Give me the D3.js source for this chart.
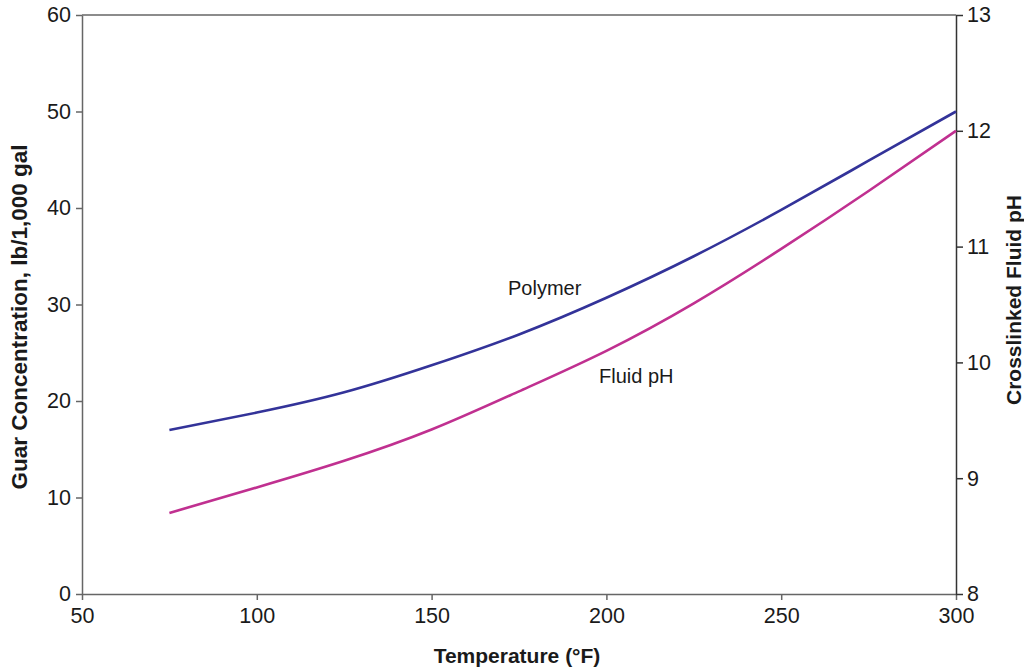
<!DOCTYPE html>
<html><head><meta charset="utf-8">
<script src="https://cdn.jsdelivr.net/npm/d3@7"></script>
<style>body{margin:0;background:#fff}svg{display:block}text{font-family:"Liberation Sans",Arial,sans-serif;fill:#1a1a1a}</style>
</head><body>
<svg id="c" width="1024" height="672"></svg>
<script>
const temps = [75, 100, 125, 150, 175, 200, 225, 250, 275, 300];
const polymer = [17.0, 18.8, 20.9, 23.7, 26.9, 30.7, 35.0, 39.8, 44.9, 50.0];
const fluidPH = [8.70, 8.92, 9.15, 9.42, 9.75, 10.10, 10.51, 10.98, 11.48, 12.0];
const xTicks = [50, 100, 150, 200, 250, 300];
const yLeftTicks = [0, 10, 20, 30, 40, 50, 60];
const yRightTicks = [8, 9, 10, 11, 12, 13];

const svg = d3.select("#c");
const L = 82, R = 956, T = 15, B = 594;
const x = d3.scaleLinear().domain([50, 300]).range([L, R]);
const yL = d3.scaleLinear().domain([0, 60]).range([B, T]);
const yR = d3.scaleLinear().domain([8, 13]).range([B, T]);

svg.append("line").attr("x1", L).attr("x2", R).attr("y1", T).attr("y2", T).attr("stroke", "#666").attr("stroke-width", 1.5);

const fs = "21.5px";
const gx = svg.append("g").attr("transform", `translate(0,${B})`)
  .call(d3.axisBottom(x).tickValues(xTicks).tickFormat(d3.format("d")).tickSize(6).tickPadding(8).tickSizeOuter(0));
const gl = svg.append("g").attr("transform", `translate(${L},0)`)
  .call(d3.axisLeft(yL).tickValues(yLeftTicks).tickFormat(d3.format("d")).tickSize(6).tickPadding(5).tickSizeOuter(0));
const gr = svg.append("g").attr("transform", `translate(${R},0)`)
  .call(d3.axisRight(yR).tickValues(yRightTicks).tickFormat(d3.format("d")).tickSize(7).tickPadding(4).tickSizeOuter(0));
[gx, gl].forEach(g => {
  g.selectAll("path,line").attr("stroke", "#666").attr("stroke-width", 1.5);
});
gr.selectAll("path,line").attr("stroke", "#333").attr("stroke-width", 1.5);
[gx, gl, gr].forEach(g => g.selectAll("text").style("font-size", fs).style("font-family", "Liberation Sans, Arial, sans-serif").attr("fill", "#1a1a1a"));

const lineL = d3.line().x((d, i) => x(temps[i])).y(d => yL(d)).curve(d3.curveNatural);
const lineR = d3.line().x((d, i) => x(temps[i])).y(d => yR(d)).curve(d3.curveNatural);
svg.append("path").attr("d", lineL(polymer)).attr("fill", "none").attr("stroke", "#333399").attr("stroke-width", 2.6);
svg.append("path").attr("d", lineR(fluidPH)).attr("fill", "none").attr("stroke", "#C03090").attr("stroke-width", 2.6);

svg.append("text").attr("x", 508).attr("y", 295).style("font-size", "20px").text("Polymer");
svg.append("text").attr("x", 599).attr("y", 383).style("font-size", "20px").text("Fluid pH");

svg.append("text").attr("x", 517).attr("y", 663).attr("text-anchor", "middle")
  .style("font-size", "21px").style("font-weight", "bold").text("Temperature (°F)");
svg.append("text").attr("transform", "translate(27,317) rotate(-90)").attr("text-anchor", "middle")
  .style("font-size", "22.5px").style("font-weight", "bold").text("Guar Concentration, lb/1,000 gal");
svg.append("text").attr("transform", "translate(1021,300) rotate(-90)").attr("text-anchor", "middle")
  .style("font-size", "21px").style("font-weight", "bold").text("Crosslinked Fluid pH");
</script>
</body></html>
